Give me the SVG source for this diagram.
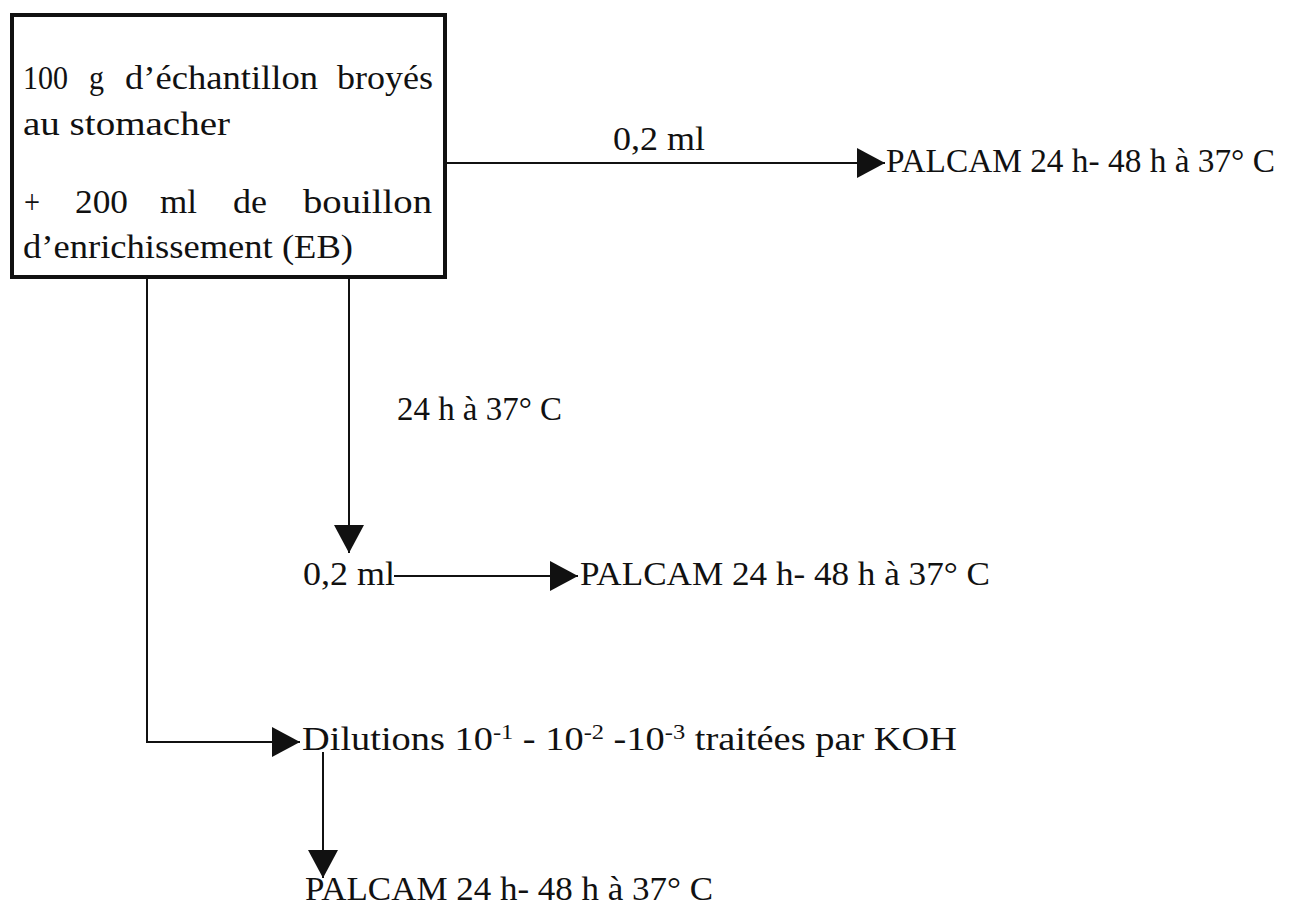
<svg xmlns="http://www.w3.org/2000/svg" width="1294" height="910" viewBox="0 0 1294 910">
<style>
text{font-family:"Liberation Serif","Times New Roman",serif;fill:#111;font-size:33px}
.box{fill:#fff;stroke:#111;stroke-width:4}
.c{fill:none;stroke:#111;stroke-width:2}
</style>
<defs>
<marker id="ah" markerUnits="userSpaceOnUse" markerWidth="30" markerHeight="32" refX="28" refY="15" orient="auto">
<path d="M0,0 L28,15 L0,30 z" fill="#111"/>
</marker>
</defs>
<rect width="1294" height="910" fill="#fff"/>
<g id="source">
<rect class="box" x="12" y="15" width="433" height="262"/>
<text y="89"><tspan x="23" textLength="45" lengthAdjust="spacingAndGlyphs">100</tspan></text>
<text y="89"><tspan x="89" textLength="15" lengthAdjust="spacingAndGlyphs">g</tspan></text>
<text y="89"><tspan x="125" textLength="193" lengthAdjust="spacingAndGlyphs">d’échantillon</tspan></text>
<text y="89"><tspan x="337" textLength="96" lengthAdjust="spacingAndGlyphs">broyés</tspan></text>
<text x="23" y="135" textLength="207" lengthAdjust="spacingAndGlyphs">au stomacher</text>
<text x="24" y="213" textLength="16" lengthAdjust="spacingAndGlyphs">+</text>
<text x="75" y="213" textLength="53" lengthAdjust="spacingAndGlyphs">200</text>
<text x="160" y="213" textLength="37" lengthAdjust="spacingAndGlyphs">ml</text>
<text x="233" y="213" textLength="34" lengthAdjust="spacingAndGlyphs">de</text>
<text x="303" y="213" textLength="129" lengthAdjust="spacingAndGlyphs">bouillon</text>
<text x="23" y="258" textLength="330" lengthAdjust="spacingAndGlyphs">d’enrichissement (EB)</text>
</g>
<g id="connectors">
<line class="c" x1="447" y1="163" x2="885" y2="163" marker-end="url(#ah)"/>
<line class="c" x1="349" y1="277" x2="349" y2="553" marker-end="url(#ah)"/>
<line class="c" x1="394" y1="576" x2="578" y2="576" marker-end="url(#ah)"/>
<polyline class="c" points="147,277 147,742 300,742" marker-end="url(#ah)"/>
<line class="c" x1="323" y1="752" x2="323" y2="878" marker-end="url(#ah)"/>
</g>
<g id="labels">
<text x="613" y="150" textLength="92" lengthAdjust="spacingAndGlyphs">0,2 ml</text>
<text x="397" y="420" textLength="165" lengthAdjust="spacingAndGlyphs">24 h à 37° C</text>
</g>
<g id="palcam1"><text x="886" y="172" textLength="389" lengthAdjust="spacingAndGlyphs">PALCAM 24 h- 48 h à 37° C</text></g>
<g id="step2"><text x="303" y="585" textLength="92" lengthAdjust="spacingAndGlyphs">0,2 ml</text></g>
<g id="palcam2"><text x="580" y="585" textLength="410" lengthAdjust="spacingAndGlyphs">PALCAM 24 h- 48 h à 37° C</text></g>
<g id="dilutions"><text x="302" y="750" textLength="655" lengthAdjust="spacingAndGlyphs">Dilutions 10<tspan font-size="21" dy="-11">-1</tspan><tspan dy="11"> - 10</tspan><tspan font-size="21" dy="-11">-2</tspan><tspan dy="11"> -10</tspan><tspan font-size="21" dy="-11">-3</tspan><tspan dy="11"> traitées par KOH</tspan></text></g>
<g id="palcam3"><text x="305" y="900" textLength="408" lengthAdjust="spacingAndGlyphs">PALCAM 24 h- 48 h à 37° C</text></g>
</svg>
